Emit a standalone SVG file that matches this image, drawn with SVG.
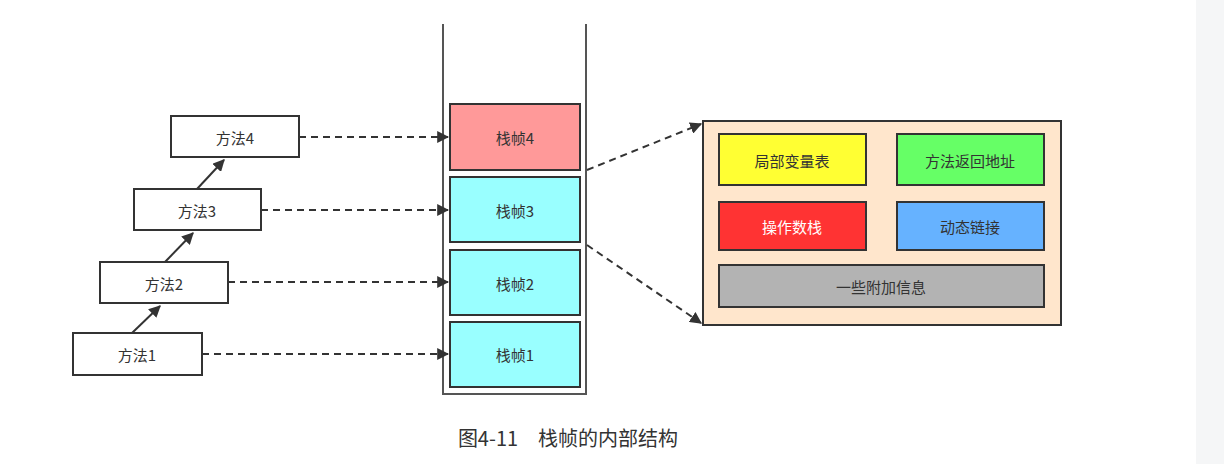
<svg xmlns="http://www.w3.org/2000/svg" width="1224" height="464" viewBox="0 0 1224 464">
<style>
text{font-family:"Noto Sans CJK SC","Noto Sans",sans-serif;font-size:15px;fill:#333;text-anchor:middle;dominant-baseline:central}
.m{fill:#fff;stroke:#333;stroke-width:2}
.f{stroke:#333;stroke-width:2}
.d{stroke:#333;stroke-width:2;stroke-dasharray:7 5;fill:none;marker-end:url(#a)}
.s{stroke:#333;stroke-width:2;fill:none;marker-end:url(#a)}
</style>
<defs><marker id="a" viewBox="0 0 10 10" refX="9" refY="5" markerWidth="6" markerHeight="6" orient="auto"><path d="M0,0L10,5L0,10z" fill="#333"/></marker></defs>
<rect x="0" y="0" width="1224" height="464" fill="#fff"/>
<rect x="1196" y="0" width="28" height="464" fill="#f5f6f7"/>
<g id="stack"><path d="M443,24V394H586V24" fill="none" stroke="#555" stroke-width="2"/></g>
<g id="m4"><rect class="m" x="171" y="116" width="128" height="41"/><text x="235" y="137">方法4</text></g>
<g id="m3"><rect class="m" x="134" y="189" width="127" height="41"/><text x="197" y="210">方法3</text></g>
<g id="m2"><rect class="m" x="100" y="262" width="128" height="41"/><text x="164" y="283">方法2</text></g>
<g id="m1"><rect class="m" x="73" y="333" width="129" height="42"/><text x="137" y="354">方法1</text></g>
<g id="f4"><rect class="f" x="450" y="104" width="130" height="66" fill="#ff9999"/><text x="515" y="137">栈帧4</text></g>
<g id="f3"><rect class="f" x="450" y="177" width="130" height="65" fill="#99ffff"/><text x="515" y="210">栈帧3</text></g>
<g id="f2"><rect class="f" x="450" y="250" width="130" height="65" fill="#99ffff"/><text x="515" y="283">栈帧2</text></g>
<g id="f1"><rect class="f" x="450" y="322" width="130" height="65" fill="#99ffff"/><text x="515" y="354">栈帧1</text></g>
<g id="detail"><rect x="703" y="121" width="358" height="204" fill="#ffe6cc" stroke="#333" stroke-width="2"/></g>
<g id="lv"><rect class="f" x="719" y="134" width="147" height="51" fill="#ffff33"/><text x="792" y="160">局部变量表</text></g>
<g id="ra"><rect class="f" x="897" y="134" width="147" height="51" fill="#66ff66"/><text x="970" y="160">方法返回地址</text></g>
<g id="os"><rect class="f" x="719" y="202" width="147" height="48" fill="#ff3333"/><text x="792" y="226" style="fill:#fff">操作数栈</text></g>
<g id="dl"><rect class="f" x="897" y="202" width="147" height="48" fill="#66b2ff"/><text x="970" y="226">动态链接</text></g>
<g id="ex"><rect class="f" x="719" y="265" width="325" height="42" fill="#b3b3b3"/><text x="881" y="286">一些附加信息</text></g>
<g id="connectors">
<path class="s" d="M132,333L160,306"/>
<path class="s" d="M165,262L193,233"/>
<path class="s" d="M197,189L224,160"/>
<path class="d" d="M202,354H448"/>
<path class="d" d="M228,282H448"/>
<path class="d" d="M261,210H448"/>
<path class="d" d="M299,137H448"/>
<path class="d" d="M587,170L701,124"/>
<path class="d" d="M587,245L701,323"/>
</g>
<text x="568" y="437" style="font-size:20px">图4-11　栈帧的内部结构</text>
</svg>
